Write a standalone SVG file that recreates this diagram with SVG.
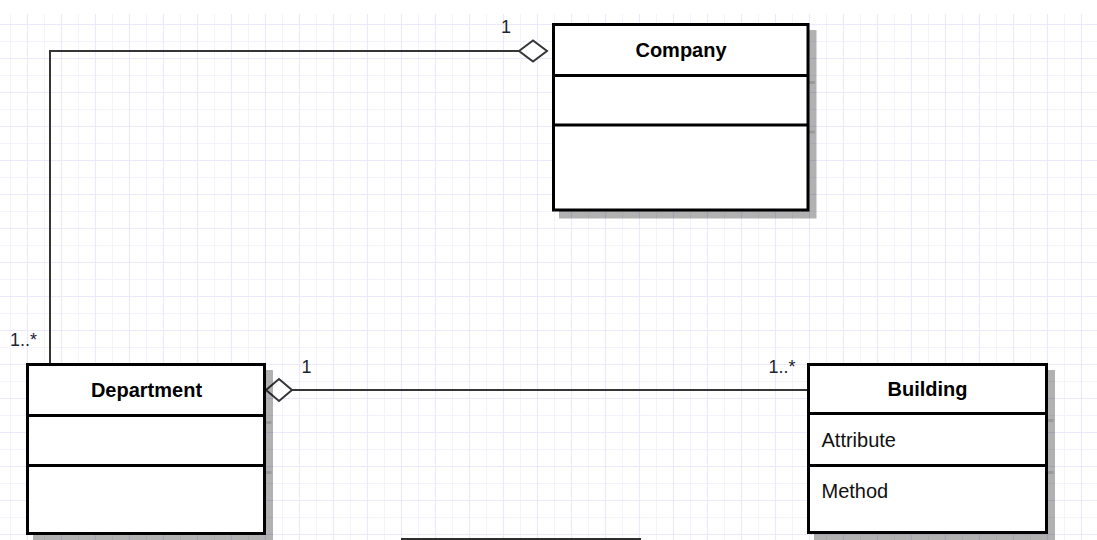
<svg xmlns="http://www.w3.org/2000/svg" width="1097" height="540" viewBox="0 0 1097 540">
  <defs>
    <pattern id="grid" patternUnits="userSpaceOnUse" x="10" y="7" width="34" height="34">
      <path d="M0.5 0V34M0 0.5H34" stroke="#f4f2fd" stroke-width="1" fill="none"/>
      <path d="M17.5 0V34M0 17.5H34" stroke="#ece9fb" stroke-width="1.2" fill="none"/>
    </pattern>
    <style>
      .box { fill: #ffffff; stroke: #000000; stroke-width: 3; }
      .div { stroke: #000000; stroke-width: 3; }
      .shadow { fill: #000000; stroke: #000000; stroke-width: 3; }
      .shline { stroke: #000000; stroke-width: 3; }
      .title { font-family: "Liberation Sans", Arial, sans-serif; font-size: 20px; font-weight: bold; fill: #000000; text-anchor: middle; }
      .member { font-family: "Liberation Sans", Arial, sans-serif; font-size: 20px; fill: #111111; }
      .mult { font-family: "Liberation Sans", Arial, sans-serif; font-size: 18px; fill: #1c2433; }
      .conn { fill: none; stroke: #353535; stroke-width: 2; }
      .diamond { fill: #ffffff; stroke: #353535; stroke-width: 2; stroke-linejoin: miter; }
    </style>
  </defs>

  <rect x="0" y="0" width="1097" height="540" fill="#ffffff"/>
  <rect x="0" y="14" width="1097" height="526" fill="url(#grid)"/>

  <g id="connectors">
    <polyline class="conn" points="519,51 50,51 50,364"/>
    <polygon class="diamond" points="519,51 533,40.5 547,51 533,61.5"/>
    <line class="conn" x1="292" y1="390" x2="808" y2="390"/>
    <polygon class="diamond" points="266,390 279,379 292,390 279,401"/>
    <text class="mult" x="501" y="32.5">1</text>
    <text class="mult" x="10" y="345.5">1..*</text>
    <text class="mult" x="301.5" y="372.5">1</text>
    <text class="mult" x="768.5" y="372.5">1..*</text>
  </g>

  <g id="company">
    <g opacity="0.3" transform="translate(7,7)">
      <rect class="shadow" x="553.5" y="24.5" width="254.5" height="185.5"/>
    </g>
    <g opacity="0.12" transform="translate(7,7)">
      <line class="shline" x1="553.5" y1="75.5" x2="808" y2="75.5"/>
      <line class="shline" x1="553.5" y1="125" x2="808" y2="125"/>
    </g>
    <rect class="box" x="553.5" y="24.5" width="254.5" height="185.5"/>
    <line class="div" x1="553.5" y1="75.5" x2="808" y2="75.5"/>
    <line class="div" x1="553.5" y1="125" x2="808" y2="125"/>
    <text class="title" x="681" y="57">Company</text>
  </g>

  <g id="department">
    <g opacity="0.3" transform="translate(7,7)">
      <rect class="shadow" x="27.5" y="364.5" width="237" height="169"/>
    </g>
    <g opacity="0.12" transform="translate(7,7)">
      <line class="shline" x1="27.5" y1="415.5" x2="264.5" y2="415.5"/>
      <line class="shline" x1="27.5" y1="465.5" x2="264.5" y2="465.5"/>
    </g>
    <rect class="box" x="27.5" y="364.5" width="237" height="169"/>
    <line class="div" x1="27.5" y1="415.5" x2="264.5" y2="415.5"/>
    <line class="div" x1="27.5" y1="465.5" x2="264.5" y2="465.5"/>
    <text class="title" x="146.5" y="397">Department</text>
  </g>

  <g id="building">
    <g opacity="0.3" transform="translate(7,7)">
      <rect class="shadow" x="808.5" y="364.5" width="238" height="168"/>
    </g>
    <g opacity="0.12" transform="translate(7,7)">
      <line class="shline" x1="808.5" y1="413.5" x2="1046.5" y2="413.5"/>
      <line class="shline" x1="808.5" y1="465.5" x2="1046.5" y2="465.5"/>
    </g>
    <rect class="box" x="808.5" y="364.5" width="238" height="168"/>
    <line class="div" x1="808.5" y1="413.5" x2="1046.5" y2="413.5"/>
    <line class="div" x1="808.5" y1="465.5" x2="1046.5" y2="465.5"/>
    <text class="title" x="927.5" y="396">Building</text>
    <text class="member" x="821.5" y="447">Attribute</text>
    <text class="member" x="821.5" y="497.5">Method</text>
  </g>

  <rect x="401" y="538" width="240" height="2" fill="#2e2e2e"/>
</svg>
